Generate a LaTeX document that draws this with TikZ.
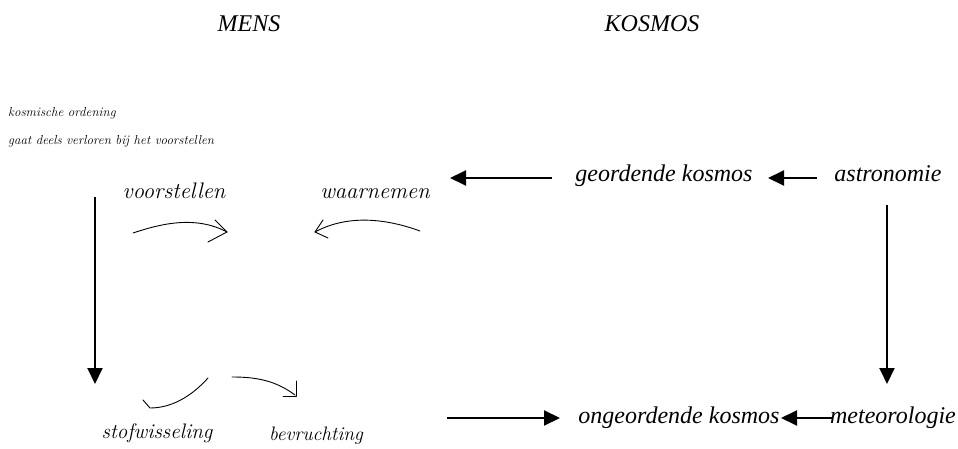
\documentclass[tikz,border=0pt]{standalone}
\usepackage{fontspec}
\setmainfont{Latin Modern Roman}
\newfontfamily\tms{Liberation Serif}
\usetikzlibrary{arrows.meta}
\tikzset{
  big/.style={font=\tms\itshape\fontsize{24}{28}\selectfont, inner sep=0pt, anchor=base},
  hand/.style={font=\itshape\fontsize{#1}{24}\selectfont, inner sep=0pt, anchor=base},
  tiny/.style={font=\itshape\fontsize{13}{15}\selectfont, inner sep=0pt, anchor=base west},
  bigarrow/.style={line width=2pt, -{Triangle[length=16pt,width=15pt]}},
  thin/.style={line width=0.9pt, line cap=round, line join=round}
}
\begin{document}
\begin{tikzpicture}[x=1pt,y=-1pt]
\useasboundingbox[fill=white] (0,0) rectangle (958,449);
% headings
\node[big] (mens) at (249,32) {MENS};
\node[big] (kosmos) at (652,32) {KOSMOS};
% small notes
\node[tiny] (n1) at (8,117) {kosmische ordening};
\node[tiny] (n2) at (8,145) {gaat deels verloren bij het voorstellen};
% right side texts
\node[big] (geo) at (664,182) {geordende kosmos};
\node[big] (astro) at (888,182) {astronomie};
\node[big] (ongeo) at (679,423) {ongeordende kosmos};
\node[big] (meteo) at (893,423) {meteorologie};
% hand labels
\node[hand=22.5] (voor) at (174,199) {voorstellen};
\node[hand=22.5] (waar) at (375,199) {waarnemen};
\node[hand=21] (stof) at (157,438) {stofwisseling};
\node[hand=19.5] (bevr) at (316,440) {bevruchting};
% coordinates for big arrows
\coordinate (a1s) at (552,178);
\coordinate (a1e) at (450,178);
\coordinate (a2s) at (817,178);
\coordinate (a2e) at (768,178);
\coordinate (a3s) at (447,418);
\coordinate (a3e) at (560,418);
\coordinate (a4s) at (832,418);
\coordinate (a4e) at (781,418);
\coordinate (v1s) at (95,197);
\coordinate (v1e) at (95,384);
\coordinate (v2s) at (887,205);
\coordinate (v2e) at (887,384);
\draw[bigarrow] (a1s) -- (a1e);
\draw[bigarrow] (a2s) -- (a2e);
\draw[bigarrow] (a3s) -- (a3e);
\draw[bigarrow] (a4s) -- (a4e);
\draw[bigarrow] (v1s) -- (v1e);
\draw[bigarrow] (v2s) -- (v2e);
% hand drawn arrows
\coordinate (c1s) at (133,233);
\coordinate (c1e) at (227,232);
\draw[thin] (c1s) .. controls (160,224) and (195,215) .. (c1e);
\draw[thin] (215,220) -- (c1e) -- (208,242);
\coordinate (c2s) at (420,231);
\coordinate (c2e) at (315,232);
\draw[thin] (c2s) .. controls (390,220) and (350,213) .. (c2e);
\draw[thin] (323,220) -- (c2e) -- (328,238);
\coordinate (c3s) at (208,378);
\coordinate (c3e) at (143,400);
\draw[thin] (c3s) .. controls (190,398) and (170,408) .. (150,408) -- (c3e);
\coordinate (c4s) at (232,377);
\coordinate (c4e) at (295,395);
\draw[thin] (c4s) .. controls (255,377) and (275,380) .. (c4e);
\draw[thin] (296,381) -- (296,396) -- (283,396);
\end{tikzpicture}
\end{document}
